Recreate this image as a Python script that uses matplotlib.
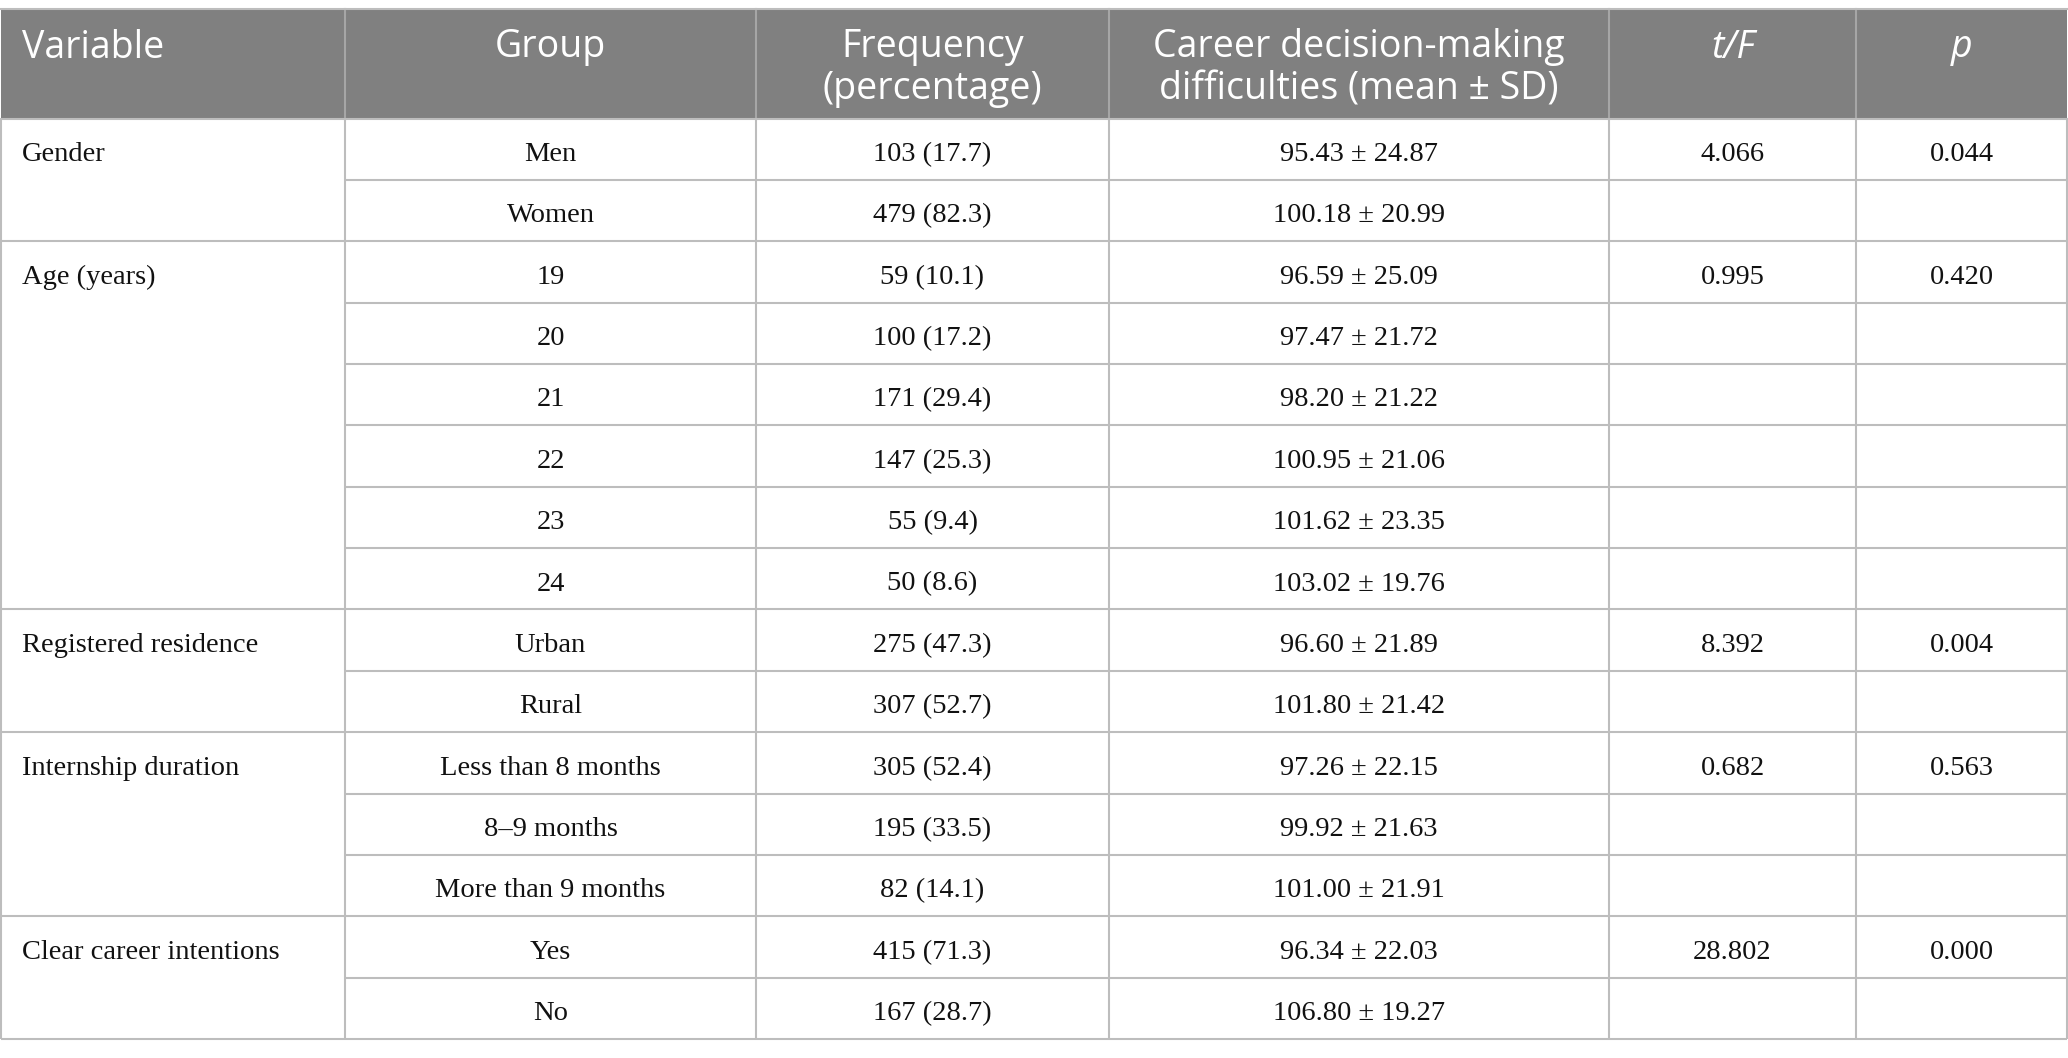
import matplotlib
matplotlib.use("Agg")
import matplotlib.pyplot as plt

# Table content
headers = [["Variable"], ["Group"], ["Frequency", "(percentage)"],
           ["Career decision-making", "difficulties (mean \u00b1 SD)"],
           ["t/F"], ["p"]]
header_italic = [False, False, False, False, True, True]

variables = ["Gender", "Age (years)", "Registered residence",
             "Internship duration", "Clear career intentions"]
groups = [["Men", "Women"],
          ["19", "20", "21", "22", "23", "24"],
          ["Urban", "Rural"],
          ["Less than 8 months", "8\u20139 months", "More than 9 months"],
          ["Yes", "No"]]
freq = ["103 (17.7)", "479 (82.3)",
        "59 (10.1)", "100 (17.2)", "171 (29.4)", "147 (25.3)", "55 (9.4)", "50 (8.6)",
        "275 (47.3)", "307 (52.7)",
        "305 (52.4)", "195 (33.5)", "82 (14.1)",
        "415 (71.3)", "167 (28.7)"]
mean_sd = ["95.43 \u00b1 24.87", "100.18 \u00b1 20.99",
           "96.59 \u00b1 25.09", "97.47 \u00b1 21.72", "98.20 \u00b1 21.22",
           "100.95 \u00b1 21.06", "101.62 \u00b1 23.35", "103.02 \u00b1 19.76",
           "96.60 \u00b1 21.89", "101.80 \u00b1 21.42",
           "97.26 \u00b1 22.15", "99.92 \u00b1 21.63", "101.00 \u00b1 21.91",
           "96.34 \u00b1 22.03", "106.80 \u00b1 19.27"]
t_F = ["4.066", "0.995", "8.392", "0.682", "28.802"]
p_vals = ["0.044", "0.420", "0.004", "0.563", "0.000"]

# Layout (pixels)
W, H = 2068, 1058
col_x = [1, 345, 756, 1109, 1609, 1856, 2067]
head_top, head_bot = 8.5, 118.5
row_h = (1039 - head_bot) / len(freq)
line_c = "#bdbdbd"
head_c = "#808080"
serif = "Liberation Serif"
sans = "Open Sans"
body_fs = 20.5
head_fs = 27

fig = plt.figure(figsize=(W / 100, H / 100), dpi=100)
ax = fig.add_axes([0, 0, 1, 1])
ax.set_xlim(0, W)
ax.set_ylim(H, 0)
ax.axis("off")

# header
ax.add_patch(plt.Rectangle((col_x[0], head_top), col_x[-1] - col_x[0],
                           head_bot - head_top, color=head_c, lw=0))
for j, lines in enumerate(headers):
    if j == 0:
        x, ha = col_x[0] + 21, "left"
    else:
        x, ha = (col_x[j] + col_x[j + 1]) / 2, "center"
    for k, s in enumerate(lines):
        ax.text(x, head_top + 49 + k * 42, s, ha=ha, va="baseline",
                color="white", fontsize=head_fs, family=sans,
                style="italic" if header_italic[j] else "normal")
for xv in col_x[1:-1]:
    ax.plot([xv, xv], [head_top, head_bot], color="#a6a6a6", lw=1.5)
ax.plot([col_x[0], col_x[-1]], [head_top, head_top], color=line_c, lw=1.5)

# body
r = 0
for v, grp in enumerate(groups):
    top = head_bot + r * row_h
    ax.text(col_x[0] + 21, top + 42.5, variables[v], ha="left", va="baseline",
            fontsize=body_fs, family=serif, color="#111111")
    ax.text((col_x[4] + col_x[5]) / 2, top + 42.5, t_F[v], ha="center",
            va="baseline", fontsize=body_fs, family=serif, color="#111111")
    ax.text((col_x[5] + col_x[6]) / 2, top + 42.5, p_vals[v], ha="center",
            va="baseline", fontsize=body_fs, family=serif, color="#111111")
    for g in grp:
        y0 = head_bot + r * row_h
        for j, s in [(1, g), (2, freq[r]), (3, mean_sd[r])]:
            ax.text((col_x[j] + col_x[j + 1]) / 2, y0 + 42.5, s, ha="center",
                    va="baseline", fontsize=body_fs, family=serif, color="#111111")
        r += 1
        y1 = head_bot + r * row_h
        last = (g == grp[-1])
        x_start = col_x[0] if last else col_x[1]
        ax.plot([x_start, col_x[-1]], [y1, y1], color=line_c, lw=1.5,
                solid_capstyle="butt")

for xv in col_x:
    ax.plot([xv, xv], [head_bot, head_bot + r * row_h], color=line_c, lw=1.5,
            solid_capstyle="butt")
ax.plot([col_x[0], col_x[-1]], [head_bot, head_bot], color=line_c, lw=1.5)

fig.savefig("out.png", dpi=100, facecolor="white")
